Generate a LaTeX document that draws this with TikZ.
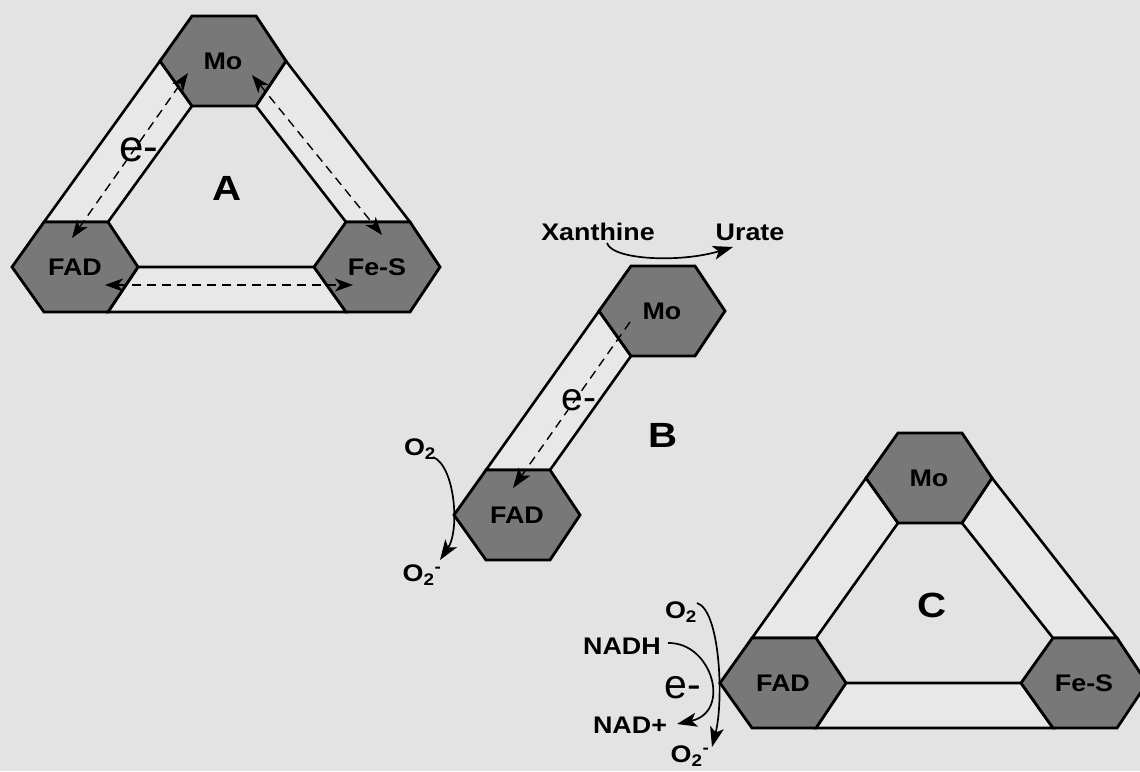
\documentclass[tikz,border=0pt]{standalone}
\usepackage{fontspec}
\setmainfont{Liberation Sans}
\usetikzlibrary{arrows.meta}
\definecolor{bgc}{HTML}{E3E3E3}
\definecolor{barc}{HTML}{E8E8E8}
\definecolor{hexc}{HTML}{787878}
\newcommand\hstretch[1]{\scalebox{1.12}[1]{#1}}
\newcommand\bstretch[1]{\scalebox{1.15}[1]{#1}}
% hexagon corner coordinates: name, cx, cy
\newcommand\hexdef[3]{\path (#2,#3) coordinate (#1-c)
  +(-63,0) coordinate (#1-l) +(-31,-45) coordinate (#1-tl)
  +(33,-45) coordinate (#1-tr) +(63,0) coordinate (#1-r)
  +(33,45) coordinate (#1-br) +(-31,45) coordinate (#1-bl);}
\newcommand\hexdraw[2]{\filldraw[hexstyle] (#1-l) -- (#1-tl) -- (#1-tr) -- (#1-r) -- (#1-br) -- (#1-bl) -- cycle;
  \node[lbl] (#1) at (#1-c) {\hstretch{#2}};}
\newcommand\bardraw[4]{\filldraw[barstyle] (#1) -- (#2) -- (#3) -- (#4) -- cycle;}
\begin{document}
\begin{tikzpicture}[x=1pt,y=-1pt,
  hexstyle/.style={fill=hexc,draw=black,line width=2.8pt,line join=miter},
  barstyle/.style={fill=barc,draw=black,line width=2.6pt,line join=miter},
  lbl/.style={font=\fontsize{24}{24}\selectfont\bfseries,inner sep=0pt},
  big/.style={font=\fontsize{35}{35}\selectfont\bfseries,inner sep=0pt},
  tip/.style={-{Stealth[length=20pt,width=14pt,inset=5pt]}},
  dbl/.style={{Stealth[length=18pt,width=13pt,inset=5pt]}-{Stealth[length=18pt,width=13pt,inset=5pt]}},
  dashln/.style={line width=1.4pt,dash pattern=on 9pt off 6pt},
  curv/.style={line width=1.7pt}]
\useasboundingbox (0,0) rectangle (1140,771);
\fill[bgc] (0,0) rectangle (1140,771);
% ---------- coordinates
\hexdef{moA}{223}{61}
\hexdef{fadA}{75}{267}
\hexdef{fesA}{377}{267}
\hexdef{moB}{662}{311}
\hexdef{fadB}{517}{515}
\hexdef{moC}{929}{478}
\hexdef{fadC}{783}{683}
\hexdef{fesC}{1084}{683}
% ---------- bars
\bardraw{fadA-tl}{moA-l}{moA-bl}{fadA-tr}
\bardraw{moA-r}{fesA-tr}{fesA-tl}{moA-br}
\bardraw{fadA-r}{fesA-l}{fesA-bl}{fadA-br}
\bardraw{fadB-tl}{moB-l}{moB-bl}{fadB-tr}
\bardraw{fadC-tl}{moC-l}{moC-bl}{fadC-tr}
\bardraw{moC-r}{fesC-tr}{fesC-tl}{moC-br}
\bardraw{fadC-r}{fesC-l}{fesC-bl}{fadC-br}
% ---------- hexagons
\hexdraw{moA}{Mo}
\hexdraw{fadA}{FAD}
\hexdraw{fesA}{Fe-S}
\hexdraw{moB}{Mo}
\hexdraw{fadB}{FAD}
\hexdraw{moC}{Mo}
\hexdraw{fadC}{FAD}
\hexdraw{fesC}{Fe-S}
% ---------- panel letters
\node[big] (labA) at (227,188) {\bstretch{A}};
\node[big] (labB) at (663,435) {\bstretch{B}};
\node[big] (labC) at (932,605) {\bstretch{C}};
% ---------- electrons
\node[font=\fontsize{44}{44}\selectfont,inner sep=0pt] (eA) at (139,150) {e-};
\node[font=\fontsize{39}{39}\selectfont,inner sep=0pt] (eB) at (579,400) {e-};
\node[font=\fontsize{41}{41}\selectfont,inner sep=0pt] (eC) at (683,688) {e-};
% ---------- dashed electron transfer arrows
\draw[dashln,dbl] ([shift={(-3,-29)}]fadA.center) -- ([shift={(-35,12)}]moA.center);
\draw[dashln,dbl] ([shift={(29,14)}]moA.center) -- ([shift={(5,-32)}]fesA.center);
\draw[dashln,dbl] ([shift={(30,18)}]fadA.center) -- ([shift={(-24,18)}]fesA.center);
\draw[dashln,tip] ([shift={(-32,11)}]moB.center) -- ([shift={(-4,-27)}]fadB.center);
% ---------- reaction labels
\node[lbl] (xan) at (598,232) {\hstretch{Xanthine}};
\node[lbl] (ura) at (750,232) {\hstretch{Urate}};
\node[lbl] (o2B) at (420,449) {\hstretch{O\textsubscript{2}}};
\node[lbl] (o2mB) at (422,575) {\hstretch{O\textsubscript{2}\textsuperscript{-}}};
\node[lbl] (nadh) at (622,646) {\hstretch{NADH}};
\node[lbl] (nadp) at (630,725) {\hstretch{NAD+}};
\node[lbl] (o2C) at (681,612) {\hstretch{O\textsubscript{2}}};
\node[lbl] (o2mC) at (690,756) {\hstretch{O\textsubscript{2}\textsuperscript{-}}};
% ---------- reaction curves
\draw[curv,tip] ([shift={(9,11)}]xan.center) .. controls (612,260) and (680,263) .. ([shift={(-17,15)}]ura.center);
\draw[curv,tip] ([shift={(13,8)}]o2B.center) .. controls (455,466) and (460,530) .. ([shift={(18,-15)}]o2mB.center);
\draw[curv,tip] ([shift={(46,-3)}]nadh.center) .. controls (712,642) and (732,712) .. ([shift={(47,-1)}]nadp.center);
\draw[curv,tip] ([shift={(16,-9)}]o2C.center) .. controls (720,610) and (724,700) .. ([shift={(22,-9)}]o2mC.center);
\end{tikzpicture}
\end{document}
